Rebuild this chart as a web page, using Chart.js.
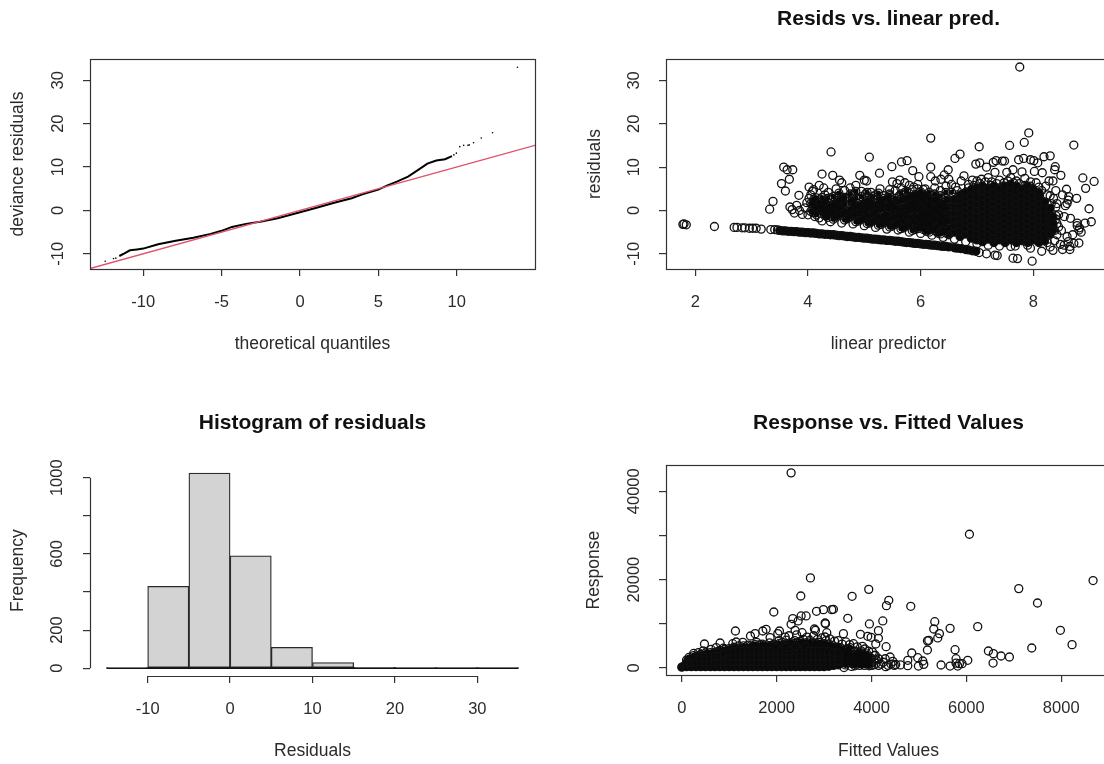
<!DOCTYPE html>
<html><head><meta charset="utf-8">
<script src="https://cdn.jsdelivr.net/npm/chart.js@4"></script>
<style>
html,body{margin:0;padding:0;background:#fff;overflow:hidden;width:1104px;height:764px}
canvas{position:absolute;filter:blur(0.5px)}
</style></head><body>
<canvas id="c1" width="552" height="382" style="left:0;top:0"></canvas>
<canvas id="c2" width="600" height="382" style="left:552px;top:0"></canvas>
<canvas id="c3" width="552" height="382" style="left:0;top:382px"></canvas>
<canvas id="c4" width="600" height="382" style="left:552px;top:382px"></canvas>
<script>
// ---------- Panel 1: QQ plot ----------
const qqDense=[[-11.53,-10.5],[-11.2,-9.9],[-10.85,-9.2],[-10.4,-9.0],[-10,-8.8],[-9.05,-7.8],[-7.93,-7],[-6.8,-6.3],[-5.7,-5.4],[-5,-4.7],[-4.34,-3.8],[-3.44,-3.1],[-2.54,-2.6],[-1.42,-1.8],[0,-0.4],[1.06,0.6],[2.18,1.75],[3.3,2.8],[3.98,3.7],[5,4.8],[5.55,5.7],[6.22,6.7],[6.9,7.8],[7.57,9.4],[8.13,10.8],[8.7,11.5],[9.26,11.8],[9.7,12.5]];
const qqTail=[[-12.43,-11.7],[-11.9,-11.1],[-11.75,-11],[9.82,12.8],[9.98,13.2],[10.2,14.7],[10.45,15],[10.72,15],[10.8,15.1],[11.08,15.6],[11.57,16.7],[12.29,17.9],[13.88,33]];
const qqRef=[[-13.4,-13.4],[15,15]];
const qqXTicks=[-10,-5,0,5,10], qqYTicks=[-10,0,10,20,30];

// ---------- Panel 2: residuals vs linear predictor ----------
const linOut=[[7.76,33.1],[6.18,16.7],[7.92,17.9],[7.84,15.7],[7.58,15],[7.04,14.7],[8.72,15.1],[4.41,13.5],[5.09,12.3],[6.7,13],[6.61,12],[5.66,11.2],[5.76,11.5],[5.49,10.1],[6.18,10],[6.98,10.7],[7.05,11],[7.29,11.1],[7.34,11.5],[7.45,11.4],[7.49,11.4],[7.74,11.7],[7.83,12],[7.95,11.7],[8.01,11.5],[8.08,11],[8.19,12.4],[8.3,12.6],[8.39,10.1],[8.38,9.4],[8.49,8.1],[8.16,8.7],[7.17,10],[7.32,8.8],[7.53,8.8],[7.64,9.4],[7.8,8.9],[8.02,9],[3.57,10],[3.63,9.4],[3.73,9.4],[3.67,7.2],[3.53,6.2],[3.6,4.5],[3.84,3.5],[3.38,2.1],[3.32,0.3],[4.25,8.4],[4.44,8.1],[4.92,8.1],[5,7],[5.04,6.8],[5.27,8.6],[5.86,9.2],[5.97,7.8],[6.18,7.8],[6.49,9.4],[6.77,8],[8.88,7.5],[9.08,6.7],[8.93,5.1],[8.99,0.4],[9.03,-2.6],[8.92,-2.9],[8.77,2.8],[8.59,4.9],[8.63,3.2],[8.57,1.1],[8.66,-1.8],[8.78,-2.9],[8.81,-4.5],[8.85,-5],[8.81,-7.5],[8.65,-9],[8.52,-9],[8.35,-9.2],[8.15,-9.4],[7.98,-11.7],[7.64,-11],[7.72,-11.1],[7.36,-10.4],[7.32,-10.3],[7.17,-10],[7.04,-9.7],[1.8,-3.1],[1.84,-3.3],[1.78,-3.2],[2.34,-3.7],[2.69,-3.9],[2.74,-3.9],[2.83,-4],[2.88,-4],[2.96,-4.1],[3.02,-4.1],[3.08,-4.1],[3.17,-4.3],[3.34,-4.4],[3.41,-4.4],[3.46,-4.5]];
const linFringe=[[4.02,5.4],[4.1,4.8],[4.2,5.8],[4.28,5.2],[4.36,4.2],[4.5,5],[4.56,7],[4.6,6.4],[4.65,4.6],[4.75,5.2],[4.85,5.8],[4.95,4.4],[5.02,3.8],[5.12,4.2],[5.2,3.6],[5.28,5],[5.35,3.4],[5.5,6.6],[5.58,6.2],[5.63,7],[5.72,6.4],[5.8,5.8],[5.88,5.4],[5.95,6],[6.08,5],[6.26,6.8],[6.36,7.2],[6.42,8.2],[6.5,7.2],[6.55,6],[6.62,5.4],[6.72,6.8],[6.85,6],[6.92,7],[7,6.8],[7.08,7.2],[7.2,7.6],[7.26,6.6],[7.4,7],[7.48,6.4],[7.6,7.6],[7.7,6.8],[7.85,7.4],[7.95,6.6],[8.05,6.4],[8.1,5.4],[8.22,5.6],[8.28,6.8],[8.35,6.8],[8.4,4.6],[8.3,3.4],[8.36,2.8],[8.42,1.6],[3.68,0.8],[3.72,0.2],[3.76,-0.6],[3.8,1.2],[3.85,0],[3.9,-0.9],[3.95,0.6],[4,-1],[3.98,1.8],[4.02,2.8],[4.05,3.6],[4.08,4.4],[4.12,-1.4],[4.2,-1.7],[4.25,-2.4],[4.3,3.6],[4.4,2.9],[4.55,3.4],[4.7,2.7],[4.8,3.6],[4.9,2.8],[5.05,3],[5.2,2.5],[5.35,2.2],[5.45,3.8],[5.62,3.4],[5.72,4.2],[4.4,-2.6],[4.6,-2.9],[4.8,-3.1],[5,-3.5],[5.2,-3.9],[5.4,-4.3],[5.6,-4.5],[5.8,-5],[6,-5.3],[6.2,-5.7],[6.4,-6.2],[6.6,-6.6],[6.8,-7.2],[7,-7.7],[7.2,-8],[7.4,-8.2],[7.6,-8.3],[7.68,-8.2],[7.95,-8.7],[7.9,-8],[8.4,-2],[8.45,-3.8],[8.5,-4.6],[8.55,-1.4],[8.6,-6],[8.62,-7.2],[8.7,-5.6],[8.72,-7.6],[8.38,-7],[8.42,-5.6],[8.55,-8],[8.48,-7.8],[8.3,-8.4],[8.25,-7.4],[8.65,-8.3],[8.6,1.6],[8.52,3.6],[8.35,-3.6],[8.45,-1],[8.4,0.8],[8.62,2.4],[8.78,-3.5],[8.82,-4]];
const linMid=[[4.05,-0.2],[4.05,1.6],[4.15,-1],[4.15,0.6],[4.15,2.9],[4.25,-0.2],[4.25,1.2],[4.25,3],[4.35,-1.6],[4.35,0.8],[4.35,2.8],[4.45,-2],[4.45,-0.2],[4.45,1.4],[4.45,3.2],[4.55,-1],[4.55,0.6],[4.55,2.4],[4.55,4],[4.65,-2.2],[4.65,-0.4],[4.65,1.4],[4.65,3],[4.75,-1.4],[4.75,0.4],[4.75,2.2],[4.75,3.8],[4.85,-2.6],[4.85,-0.8],[4.85,1],[4.85,2.8],[4.85,4.4],[4.95,-2],[4.95,-0.2],[4.95,1.4],[4.95,3.2],[5.05,-3],[5.05,-1],[5.05,0.6],[5.05,2.4],[5.05,4.2],[5.15,-2.4],[5.15,-0.6],[5.15,1.4],[5.15,3.2],[5.25,-3.4],[5.25,-1.4],[5.25,0.6],[5.25,2.6],[5.25,4],[5.35,-2.8],[5.35,-1],[5.35,0.8],[5.35,2.8],[5.45,-3.8],[5.45,-2],[5.45,0.2],[5.45,2],[5.45,3.4],[5.45,4.8],[5.55,-3.2],[5.55,-1.4],[5.55,0.6],[5.55,2.8],[5.55,4.6],[5.65,-4.2],[5.65,-1.8],[5.65,0.2],[5.65,2.2],[5.65,3.8],[5.65,5.2],[5.75,-3.6],[5.75,-1.4],[5.75,0.6],[5.75,2.6],[5.75,4.4],[5.85,-4.6],[5.85,-2.2],[5.85,0],[5.85,1.2],[5.85,3.2],[5.85,4.8],[5.95,-4.2],[5.95,-1.4],[5.95,0.6],[5.95,3.4],[5.95,5],[6.05,-4.4],[6.05,-2.4],[6.05,-0.8],[6.05,1.8],[6.05,3.6],[6.05,4.8],[6.15,-5],[6.15,-3],[6.15,-0.6],[6.15,1.2],[6.15,3],[6.15,4.2],[6.25,-4.6],[6.25,-1.8],[6.25,0.2],[6.25,2.6],[6.25,3.8],[6.25,5.2],[6.35,-5.4],[6.35,-2.8],[6.35,-0.8],[6.35,1],[6.35,3.4],[6.35,4.6],[6.45,-5.2],[6.45,-2],[6.45,0.6],[6.45,2.8],[6.45,4.2],[6.45,5.6],[6.55,4.2],[6.65,4.6],[6.75,3.8],[6.85,5.2],[6.95,5.8],[7.05,6.2],[7.15,6.6],[7.25,5.8],[7.35,6.2],[7.45,5.6],[7.55,6.8],[7.65,6.4],[7.75,6.2],[7.85,5.8],[7.95,5.6],[8.15,4.6],[8.25,3.6],[8.25,1.4],[8.32,1.6],[8.4,-1.2],[8.42,-3],[8.38,-4.6]];
const linBand=[[3.5,-4.6],[3.55,-4.7],[3.6,-4.7],[3.65,-4.8],[3.7,-4.8],[3.75,-4.9],[3.8,-4.9],[3.85,-5],[3.9,-5],[3.95,-5.1],[4,-5.1],[4.05,-5.2],[4.1,-5.2],[4.15,-5.3],[4.2,-5.4],[4.25,-5.4],[4.3,-5.5],[4.35,-5.5],[4.4,-5.6],[4.45,-5.6],[4.5,-5.7],[4.55,-5.8],[4.6,-5.8],[4.65,-5.9],[4.7,-6],[4.75,-6],[4.8,-6.1],[4.85,-6.2],[4.9,-6.2],[4.95,-6.3],[5,-6.4],[5.05,-6.4],[5.1,-6.5],[5.15,-6.6],[5.2,-6.6],[5.25,-6.7],[5.3,-6.8],[5.35,-6.8],[5.4,-6.9],[5.45,-6.9],[5.5,-7],[5.55,-7.1],[5.6,-7.1],[5.65,-7.2],[5.7,-7.3],[5.75,-7.4],[5.8,-7.4],[5.85,-7.5],[5.9,-7.6],[5.95,-7.6],[6,-7.7],[6.05,-7.8],[6.1,-7.8],[6.15,-7.9],[6.2,-8],[6.25,-8],[6.3,-8.1],[6.35,-8.2],[6.4,-8.3],[6.45,-8.3],[6.5,-8.4],[6.6,-8.6],[6.65,-8.7],[6.72,-8.8],[6.8,-9],[6.85,-9.1],[6.92,-9.3],[6.98,-9.4]];
const linCore=[[4.1,-0.5],[4.1,1],[4.1,2.5],[4.2,0.3],[4.2,1.8],[4.3,-1.2],[4.3,0.4],[4.3,2.2],[4.4,-0.6],[4.4,1],[4.5,-1.5],[4.5,0.2],[4.5,1.8],[4.6,-0.8],[4.6,0.9],[4.6,2.6],[4.7,-1.9],[4.7,-0.2],[4.8,-1.2],[4.8,0.5],[4.8,2],[4.9,-2.4],[4.9,-0.7],[4.9,1],[5,-1.8],[5,0],[5,1.6],[5.1,-2.9],[5.1,-1.2],[5.1,0.6],[5.1,2.2],[5.2,-2.2],[5.2,-0.4],[5.2,1.2],[5.3,-3.2],[5.3,-1.6],[5.3,0.2],[5.3,1.9],[5.4,-2.6],[5.4,-0.9],[5.4,0.8],[5.4,2.6],[5.5,-3.6],[5.5,-1.9],[5.5,-0.2],[5.5,1.4],[5.6,-2.9],[5.6,-1.2],[5.6,0.4],[5.6,2.1],[5.7,-4],[5.7,-2.4],[5.7,-0.8],[5.7,0.9],[5.7,2.6],[5.8,-3.3],[5.8,-1.7],[5.8,0],[5.8,1.6],[5.8,3.1],[5.9,-4.4],[5.9,-2.8],[5.9,-1.2],[5.9,0.4],[5.9,2],[5.9,3.6],[6,-3.7],[6,-2.1],[6,-0.5],[6,1.1],[6,2.7],[6,4.3],[6.1,-4.8],[6.1,-3.2],[6.1,-1.6],[6.1,0],[6.1,1.6],[6.1,3.2],[6.2,-4.2],[6.2,-2.6],[6.2,-1],[6.2,0.6],[6.2,2.2],[6.3,-5.2],[6.3,-3.6],[6.3,-2],[6.3,-0.4],[6.3,1.2],[6.3,2.8],[6.4,-4.6],[6.4,-3],[6.4,-1.4],[6.4,0.2],[6.4,1.8],[6.5,-5.6],[6.5,-4],[6.5,-2.4],[6.5,-0.8],[6.5,0.8],[6.5,2.4],[6.6,-5],[6.6,-3.5],[6.6,-2],[6.6,-0.5],[6.6,1],[6.6,2.5],[6.7,-6],[6.7,-4.6],[6.7,-3.2],[6.7,-1.8],[6.7,-0.4],[6.7,1],[6.7,2.4],[6.7,3.6],[6.8,-5.4],[6.8,-4],[6.8,-2.6],[6.8,-1.2],[6.8,0.2],[6.8,1.6],[6.8,3],[6.8,4.2],[6.9,-6.4],[6.9,-5],[6.9,-3.6],[6.9,-2.2],[6.9,-0.8],[6.9,0.6],[6.9,2],[6.9,3.4],[6.9,4.8],[7,-6.8],[7,-5.4],[7,-4],[7,-2.6],[7,-1.2],[7,0.2],[7,1.6],[7,3],[7,4.4],[7,5.2],[7.1,-7.2],[7.1,-5.9],[7.1,-4.6],[7.1,-3.3],[7.1,-2],[7.1,-0.7],[7.1,0.6],[7.1,1.9],[7.1,3.2],[7.1,4.5],[7.1,5.6],[7.2,-6.6],[7.2,-5.3],[7.2,-4],[7.2,-2.7],[7.2,-1.4],[7.2,-0.1],[7.2,1.2],[7.2,2.5],[7.2,3.8],[7.2,5.1],[7.3,-7.4],[7.3,-6.1],[7.3,-4.8],[7.3,-3.5],[7.3,-2.2],[7.3,-0.9],[7.3,0.4],[7.3,1.7],[7.3,3],[7.3,4.3],[7.3,5.6],[7.4,-6.8],[7.4,-5.5],[7.4,-4.2],[7.4,-2.9],[7.4,-1.6],[7.4,-0.3],[7.4,1],[7.4,2.3],[7.4,3.6],[7.4,4.9],[7.5,-7.4],[7.5,-6.1],[7.5,-4.8],[7.5,-3.5],[7.5,-2.2],[7.5,-0.9],[7.5,0.4],[7.5,1.7],[7.5,3],[7.5,4.3],[7.5,5.6],[7.6,-6.8],[7.6,-5.5],[7.6,-4.2],[7.6,-2.9],[7.6,-1.6],[7.6,-0.3],[7.6,1],[7.6,2.3],[7.6,3.6],[7.6,4.9],[7.6,6],[7.7,-7.4],[7.7,-6.1],[7.7,-4.8],[7.7,-3.5],[7.7,-2.2],[7.7,-0.9],[7.7,0.4],[7.7,1.7],[7.7,3],[7.7,4.3],[7.7,5.6],[7.8,-7],[7.8,-5.5],[7.8,-4.2],[7.8,-2.9],[7.8,-1.6],[7.8,-0.3],[7.8,1],[7.8,2.3],[7.8,3.6],[7.8,4.9],[7.9,-7.4],[7.9,-6.1],[7.9,-4.8],[7.9,-3.5],[7.9,-2.2],[7.9,-0.9],[7.9,0.4],[7.9,1.7],[7.9,3],[7.9,4.3],[7.9,5.6],[8,-6.8],[8,-5.5],[8,-4.2],[8,-2.9],[8,-1.6],[8,-0.3],[8,1],[8,2.3],[8,3.6],[8,4.9],[8.1,-7.4],[8.1,-6.1],[8.1,-4.8],[8.1,-3.5],[8.1,-2.2],[8.1,-0.9],[8.1,0.4],[8.1,1.7],[8.1,3],[8.1,4.1],[8.2,-7],[8.2,-5.5],[8.2,-4],[8.2,-2.5],[8.2,-1],[8.2,0.5],[8.2,2],[8.3,-5.5],[8.3,-4],[8.3,-2.5],[8.3,-1],[8.3,0.5],[8.35,-4.5],[8.35,-3],[8.35,-1.5]];
const linXTicks=[2,4,6,8], linYTicks=[-10,0,10,20,30];

// ---------- Panel 3: histogram ----------
const histMids=[-12.5,-7.5,-2.5,2.5,7.5,12.5,17.5,22.5,27.5,32.5];
const histCounts=[3,430,1025,590,110,30,4,1,1,1];
const histBase=[[-15,0],[35,0]];
const histXTicks=[-10,0,10,20,30], histYTicks=[0,200,400,600,800,1000], histYLabels=[0,200,600,1000];

// ---------- Panel 4: response vs fitted ----------
const fitOut=[[2305,44170],[6065,30270],[2712,20400],[2509,16300],[8672,19800],[7105,17970],[7500,14720],[3942,17800],[3591,16230],[4364,15330],[4315,14120],[4828,13970],[1940,12680],[2840,12840],[2987,13210],[3162,13210],[3197,13290],[2340,11170],[2516,11780],[2621,11780],[2453,10650],[2305,9890],[3022,10190],[3030,10000],[3500,11250],[3956,9970],[4238,10650],[1131,8380],[1778,8760],[1708,8380],[2059,8380],[2024,7780],[1862,6870],[1546,7780],[1448,7250],[2389,8530],[2537,8000],[2797,8830],[2818,8530],[3057,8000],[3022,7020],[3408,7780],[3767,7630],[3921,7170],[3992,6950],[4146,8460],[4146,6720],[4090,5440],[3809,4910],[4308,4830],[5334,10490],[5313,8830],[5657,8980],[6240,9360],[5432,7780],[5397,6800],[5207,6270],[5180,6150],[5179,4080],[5762,4150],[7983,8530],[8229,5290],[7379,4530],[6465,3850],[6571,3250],[6732,2720],[6908,2490],[6564,1130],[6030,1740],[4849,3400],[4975,2340],[5081,1590],[4989,450],[5102,830],[4765,1740],[4765,530],[5467,680],[5657,450],[5783,2110],[5783,1100],[5854,980],[5819,450],[5910,980],[478,5440],[808,5660],[724,4610],[1075,5510],[1146,5890],[1286,5810],[4392,2490],[4290,2100],[4200,900],[4410,900],[4510,800],[4610,700],[4060,2800],[4100,1800],[4000,600],[4300,300],[3420,100],[3580,350]];
const fitFringe=[[250,3300],[350,3500],[450,3900],[620,4200],[760,3700],[880,4500],[960,3900],[1100,4600],[1200,5000],[1300,4400],[1400,5200],[1480,4800],[1580,5800],[1650,5300],[1750,5000],[1850,5700],[1950,5400],[2050,6200],[2120,5800],[2200,6300],[2290,5300],[2380,6200],[2450,5700],[2560,6500],[2640,7000],[2700,6300],[2780,7300],[2860,6500],[2950,6800],[3040,6200],[3120,6600],[3220,6100],[3300,6200],[3380,5400],[3460,5900],[3540,5300],[3620,5500],[3700,4800],[3780,3900],[3860,4300],[3940,3800],[4020,3600],[4080,2900],[3650,3800],[3480,4400],[2180,7000],[2260,7300],[2420,7500]];
const fitMid=[[100,1800],[150,2400],[200,2000],[250,2800],[300,2300],[350,2800],[400,3100],[450,2600],[500,3400],[550,3000],[600,3500],[650,3000],[700,3600],[750,3200],[800,4000],[850,3400],[900,4200],[950,3600],[1000,4400],[1050,3900],[1100,4700],[1150,4200],[1200,4500],[1250,4100],[1300,5000],[1350,4500],[1400,4300],[1450,5000],[1500,4500],[1550,5300],[1600,4700],[1650,4400],[1700,5400],[1750,4500],[1800,5000],[1850,4700],[1900,5200],[1950,4500],[2000,5100],[2050,5500],[2100,4700],[2150,5300],[2200,5500],[2250,4900],[2300,5700],[2350,5100],[2400,5600],[2450,5100],[2500,6000],[2550,5400],[2600,5700],[2650,5200],[2700,5900],[2750,5000],[2800,5700],[2850,5200],[2900,5800],[2950,5000],[3000,5500],[3050,4900],[3100,5400],[3150,4700],[3200,5000],[3250,4500],[3300,4700],[3350,1200],[3350,2300],[3350,3400],[3350,4500],[3400,3600],[3450,700],[3450,1700],[3450,2700],[3450,4000],[3500,3500],[3550,1200],[3550,2300],[3550,3200],[3550,4600],[3600,1000],[3650,500],[3650,2000],[3650,3000],[3700,1300],[3700,2400],[3700,3600],[3750,600],[3750,1800],[3750,3000],[3800,1000],[3800,2300],[3800,3400],[3850,600],[3850,1500],[3850,2700],[3900,1100],[3900,2000],[3900,3200],[3950,500],[3950,1500],[3950,2500],[4000,1200],[4000,2200],[4050,700],[4050,1800],[4100,1100],[4150,600],[4150,2100],[4250,1300],[4350,600],[4450,1500],[4480,600]];
const fitCore=[[0,200],[50,500],[100,300],[100,1100],[150,1500],[200,300],[200,1200],[250,2000],[300,300],[300,1300],[400,300],[400,1400],[400,2400],[500,300],[500,1300],[500,2400],[600,300],[600,1400],[600,2500],[700,300],[700,1500],[700,2700],[800,300],[800,1500],[800,2700],[900,300],[900,1500],[900,2700],[900,3300],[1000,300],[1000,1500],[1000,2700],[1000,3600],[1100,300],[1100,1500],[1100,2700],[1100,3800],[1200,300],[1200,1500],[1200,2700],[1200,3900],[1300,300],[1300,1500],[1300,2700],[1300,3900],[1400,300],[1400,1500],[1400,2700],[1400,3900],[1500,300],[1500,1500],[1500,2700],[1500,3900],[1600,300],[1600,1500],[1600,2700],[1600,3900],[1700,300],[1700,1500],[1700,2700],[1700,3900],[1800,300],[1800,1500],[1800,2700],[1800,3900],[1900,300],[1900,1500],[1900,2700],[1900,3900],[2000,300],[2000,1500],[2000,2700],[2000,3900],[2000,4500],[2100,300],[2100,1500],[2100,2700],[2100,3900],[2200,300],[2200,1500],[2200,2700],[2200,3900],[2200,4700],[2300,300],[2300,1500],[2300,2700],[2300,3900],[2400,300],[2400,1500],[2400,2700],[2400,3900],[2400,4900],[2500,300],[2500,1500],[2500,2700],[2500,3900],[2600,300],[2600,1500],[2600,2700],[2600,3900],[2600,4800],[2700,300],[2700,1500],[2700,2700],[2700,3900],[2800,300],[2800,1500],[2800,2700],[2800,3900],[2900,300],[2900,1500],[2900,2700],[2900,3900],[3000,300],[3000,1500],[3000,2700],[3000,3900],[3100,400],[3100,1500],[3100,2700],[3100,3700],[3200,600],[3200,1500],[3200,2700],[3200,3500],[3300,700],[3300,1600],[3300,2700],[3300,3300]];
const fitXTicks=[0,2000,4000,6000,8000], fitYTicks=[0,10000,20000,30000,40000], fitYLabels=[0,20000,40000];

// ---------- shared look ----------
const TXT='#2b2b2b', AX='#333', FONT='"Liberation Sans", Arial, sans-serif';
const TICKF=16.5, LABF=17.5, TITLEF=21;
const pt=a=>a.map(p=>({x:p[0],y:p[1]}));
const rFrame={id:'rFrame',afterDraw(c){const o=c.options.plugins.rFrame||{};const g=c.ctx,a=c.chartArea;g.save();g.strokeStyle=AX;g.lineWidth=1.2;
  if(o.box){g.strokeRect(Math.round(a.left)+.5,Math.round(a.top)+.5,Math.round(a.right-a.left),Math.round(a.bottom-a.top));}
  else{const x=c.scales.x,y=c.scales.y,tx=x.ticks,ty=y.ticks;g.beginPath();
    g.moveTo(x.getPixelForValue(tx[0].value),Math.round(a.bottom)+.5);g.lineTo(x.getPixelForValue(tx[tx.length-1].value),Math.round(a.bottom)+.5);
    g.moveTo(Math.round(a.left)+.5,y.getPixelForValue(ty[0].value));g.lineTo(Math.round(a.left)+.5,y.getPixelForValue(ty[ty.length-1].value));g.stroke();}
  g.restore();}};
Chart.register(rFrame);
function axes(p){
  const xGrid={display:true,drawOnChartArea:false,drawTicks:true,tickLength:7,color:AX,lineWidth:1.2};
  return {
   x:{type:'linear',offset:false,min:p.xr[0],max:p.xr[1],border:{display:false},grid:{...xGrid,offset:false},
      afterBuildTicks:s=>{s.ticks=p.xt.map(v=>({value:v}))},
      afterFit:s=>{s.height=382-p.bottom},
      ticks:{autoSkip:false,maxRotation:0,minRotation:0,color:TXT,padding:17,font:{family:FONT,size:TICKF},callback:v=>String(v)},
      title:{display:true,text:p.xl,color:TXT,padding:{top:0,bottom:p.xlPad},font:{family:FONT,size:LABF}}},
   y:{type:'linear',min:p.yr[0],max:p.yr[1],border:{display:false},grid:xGrid,
      afterBuildTicks:s=>{s.ticks=p.yt.map(v=>({value:v}))},
      afterFit:s=>{s.width=p.left},
      ticks:{autoSkip:false,minRotation:90,maxRotation:90,crossAlign:'center',color:TXT,padding:p.ytp,font:{family:FONT,size:TICKF},
             callback:v=>(!p.yl||p.yl.includes(v))?String(v):''},
      title:{display:true,text:p.yLabel,color:TXT,padding:{top:p.ylPad,bottom:0},font:{family:FONT,size:LABF}}}
  };
}
function make(id,type,datasets,p){
  const plugins={legend:{display:false},tooltip:{enabled:false},rFrame:{box:p.box},
    title:p.title?{display:true,text:p.title,color:'#111',fullSize:false,font:{family:FONT,size:TITLEF,weight:'bold'},
       padding:{top:p.titleTop,bottom:p.top-p.titleTop-Math.round(TITLEF*1.2)}}:{display:false}};
  return new Chart(document.getElementById(id),{type,data:{datasets},options:{responsive:false,animation:false,
    layout:{padding:{top:p.title?0:p.top,left:0,right:p.right,bottom:0}},
    plugins,scales:axes(p)}});
}
const ring=(d)=>({data:pt(d),showLine:false,pointRadius:4,pointBorderWidth:1.3,pointBorderColor:'#111',pointBackgroundColor:'rgba(0,0,0,0)'});
const solid=(d)=>({data:pt(d),showLine:false,pointRadius:4,pointBorderWidth:1.3,pointBorderColor:'#111',pointBackgroundColor:'#0a0a0a'});
const dot=(d,r)=>({data:pt(d),showLine:false,pointRadius:r,pointBorderWidth:0,pointBackgroundColor:'#0a0a0a'});

make('c1','scatter',[
 {data:pt(qqRef),showLine:true,borderColor:'#DF536B',borderWidth:1.4,pointRadius:0},
 {data:pt(qqDense),showLine:true,borderColor:'#000',borderWidth:2,pointRadius:0},
 {data:pt(qqTail),showLine:false,pointRadius:0.8,pointBackgroundColor:'#000',pointBorderWidth:0}
],{box:true,top:59,bottom:269,left:90,right:17,xr:[-13.4,15],yr:[-13.5,34.9],xt:qqXTicks,yt:qqYTicks,xl:'theoretical quantiles',yLabel:'deviance residuals',xlPad:27,ylPad:8,ytp:13});

const linLeft=linCore.filter(p=>p[0]<6.6);
make('c2','scatter',[solid(linCore.filter(p=>p[0]>=6.6)),solid(linBand),dot(linLeft,3.2),dot(linMid.filter(p=>p[0]<6.6&&p[1]<4.5),2.6),ring(linLeft),ring(linMid),ring(linFringe),ring(linOut)],
 {box:true,top:59,bottom:269,left:114,right:41,xr:[1.48,9.38],yr:[-13.5,34.9],xt:linXTicks,yt:linYTicks,xl:'linear predictor',yLabel:'residuals',xlPad:27,ylPad:33,ytp:13,title:'Resids vs. linear pred.',titleTop:7});

make('c3','bar',[
 {type:'line',data:pt(histBase),borderColor:'#111',borderWidth:1.5,pointRadius:0},
 {data:histMids.map((m,i)=>({x:m,y:histCounts[i]})),backgroundColor:'#D3D3D3',borderColor:'#2a2a2a',borderWidth:1.3,borderSkipped:false,barPercentage:1,categoryPercentage:1}],
 {box:false,top:83,bottom:294,left:90,right:17,xr:[-17,37],yr:[-41,1066],xt:histXTicks,yt:histYTicks,yl:histYLabels,xl:'Residuals',yLabel:'Frequency',xlPad:2,ylPad:8,ytp:7,title:'Histogram of residuals',titleTop:29});

make('c4','scatter',[solid(fitCore),dot(fitMid.filter(p=>p[0]<4000),3),ring(fitMid),ring(fitFringe),ring(fitOut)],
 {box:true,top:83,bottom:293,left:114,right:41,xr:[-333,9050],yr:[-1580,45900],xt:fitXTicks,yt:fitYTicks,yl:fitYLabels,xl:'Fitted Values',yLabel:'Response',xlPad:2,ylPad:32,ytp:2,title:'Response vs. Fitted Values',titleTop:29});
</script>
</body></html>
